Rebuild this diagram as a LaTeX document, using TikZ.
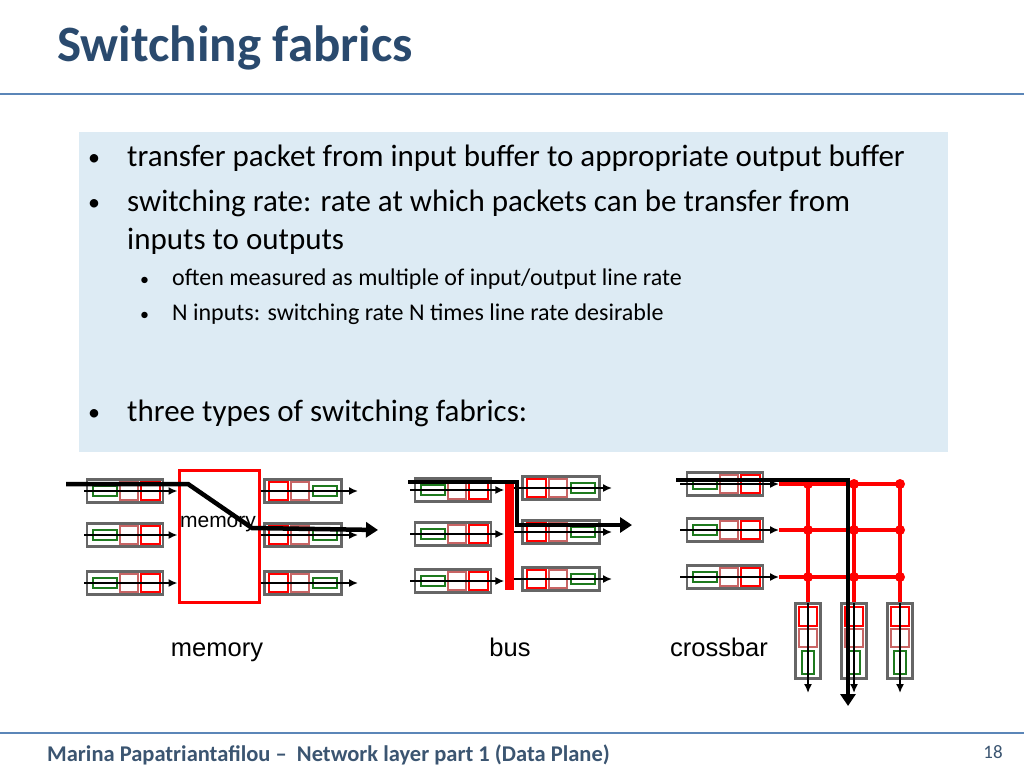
\documentclass[tikz,border=0pt]{standalone}
\usepackage{fontspec}
\setmainfont{Carlito}
\newfontfamily\arialfont{Liberation Sans}
\usetikzlibrary{arrows.meta}
\definecolor{titleblue}{HTML}{2A4A6E}
\definecolor{rulegrey}{HTML}{5B86B8}
\definecolor{panelblue}{HTML}{DDEBF4}
\definecolor{pinkred}{HTML}{C86464}
\definecolor{darkgreen}{HTML}{1E7A1E}
\tikzset{
  bufbox/.style={draw=gray!80!black,line width=2.2pt,fill=white},
  greenslot/.style={draw=darkgreen,line width=1.8pt},
  pinkslot/.style={draw=pinkred,line width=1.8pt},
  redslot/.style={draw=red,line width=1.8pt},
  thinarrow/.style={line width=1.6pt,-{Latex[length=9pt,width=8pt]}},
  bigarrow/.style={line width=4.5pt,-{Triangle[length=12pt,width=15pt]}},
  redwire/.style={draw=red,line width=3.5pt},
  junction/.style={circle,fill=red,inner sep=0pt,minimum size=10pt},
  fablabel/.style={font=\arialfont\fontsize{25.5}{28}\selectfont,anchor=base}
}
% input buffer: green first, then pink, then red
\newcommand{\inbuf}[3]{%
  \node[bufbox,minimum width=76pt,minimum height=23pt,inner sep=0pt] (#1) at (#2,#3) {};
  \draw[greenslot] (#2-32,#3-5) rectangle (#2-8,#3+5);
  \draw[pinkslot] (#2-5,#3-9) rectangle (#2+13,#3+9);
  \draw[redslot] (#2+16,#3-9) rectangle (#2+35,#3+9);
}
% output buffer: red, pink, then green
\newcommand{\outbuf}[3]{%
  \node[bufbox,minimum width=77pt,minimum height=23pt,inner sep=0pt] (#1) at (#2,#3) {};
  \draw[redslot] (#2-34,#3-9) rectangle (#2-15,#3+9);
  \draw[pinkslot] (#2-12,#3-9) rectangle (#2+6,#3+9);
  \draw[greenslot] (#2+10,#3-5) rectangle (#2+34,#3+5);
}
% vertical output buffer of the crossbar
\newcommand{\downbuf}[3]{%
  \node[bufbox,minimum width=25pt,minimum height=75pt,inner sep=0pt] (#1) at (#2,#3) {};
  \draw[redslot] (#2-9,#3-34) rectangle (#2+9,#3-15);
  \draw[pinkslot] (#2-9,#3-12) rectangle (#2+9,#3+6);
  \draw[greenslot] (#2-6,#3+10) rectangle (#2+6,#3+33);
}
\begin{document}
\begin{tikzpicture}[x=1pt,y=-1pt]
\useasboundingbox (0,0) rectangle (1024,768);

% title and rules
\node[anchor=base west,font=\bfseries\fontsize{51}{56}\selectfont,text=titleblue,inner sep=0pt] (title) at (57,61) {Switching fabrics};
\draw[rulegrey,line width=2.5pt] (0,94) -- (1024,94);
\draw[rulegrey,line width=2.5pt] (0,733) -- (1024,733);

% text panel
\fill[panelblue] (79,132) rectangle (948,452);
\begin{scope}[every node/.style={anchor=base west,inner sep=0pt,font=\fontsize{31}{34}\selectfont}]
\node (b1) at (88,166) {\raisebox{1pt}{\fontsize{24}{24}\selectfont\textbullet}};
\node (t1) at (127,166) {transfer packet from input buffer to appropriate output buffer};
\node (b2) at (88,211) {\raisebox{1pt}{\fontsize{24}{24}\selectfont\textbullet}};
\node (t2) at (127,211) {switching rate: rate at which packets can be transfer from};
\node (t2b) at (127,249) {inputs to outputs};
\node (b5) at (88,421) {\raisebox{1pt}{\fontsize{24}{24}\selectfont\textbullet}};
\node (t5) at (127,421) {three types of switching fabrics:};
\end{scope}
\begin{scope}[every node/.style={anchor=base west,inner sep=0pt,font=\fontsize{24}{27}\selectfont}]
\node (b3) at (140,285) {\fontsize{18}{18}\selectfont\textbullet};
\node (t3) at (172,285) {often measured as multiple of input/output line rate};
\node (b4) at (140,320) {\fontsize{18}{18}\selectfont\textbullet};
\node (t4) at (172,320) {N inputs: switching rate N times line rate desirable};
\end{scope}

% memory
\foreach \n/\y in {1/491,2/535,3/583}{
  \inbuf{mi\n}{125}{\y}
  \outbuf{mo\n}{303}{\y}
  \coordinate (mis\n) at (84,\y);
  \coordinate (moe\n) at (358,\y);
}
\node[draw=red,line width=3pt,minimum width=80pt,minimum height=132pt,inner sep=0pt] (mem) at (219,536) {};
\node[font=\arialfont\fontsize{21}{23}\selectfont,inner sep=0pt] (memtext) at (218,524) {memory};
\foreach \n in {1,2,3}{
  \draw[thinarrow] (mis\n) -- (mem.west |- mis\n);
  \draw[thinarrow] (mem.east |- moe\n) -- (moe\n);
}
\coordinate (mstart) at (66,484);
\coordinate (mend) at (378,530);
\draw[bigarrow] (mstart) -- (188,484) -- (252,528) -- (mend);
\node[fablabel] (memlabel) at (217,656) {memory};

% bus
\foreach \n/\y/\yo in {1/490/488,2/534/532,3/581/579}{
  \inbuf{bi\n}{453}{\y}
  \outbuf{bo\n}{561}{\yo}
  \coordinate (bis\n) at (410,\y);
  \coordinate (boe\n) at (612,\yo);
}
\node[fill=red,minimum width=9pt,minimum height=110pt,inner sep=0pt] (bus) at (509,535) {};
\foreach \n in {1,2,3}{
  \draw[thinarrow] (bis\n) -- (bus.west |- bis\n);
  \draw[thinarrow] (bus.east |- boe\n) -- (boe\n);
}
\coordinate (bstart) at (408,482);
\coordinate (bend) at (632,525);
\draw[bigarrow] (bstart) -- (517,482) -- (517,525) -- (bend);
\node[fablabel] (buslabel) at (510,656) {bus};

% crossbar
\foreach \n/\y in {1/484,2/530,3/577}{
  \inbuf{ci\n}{725}{\y}
  \coordinate (cis\n) at (680,\y);
  \coordinate (cie\n) at (779,\y);
  \coordinate (cre\n) at (900,\y);
  \draw[thinarrow] (cis\n) -- (cie\n);
  \draw[redwire] (cie\n) -- (cre\n);
}
\foreach \m/\x in {1/808,2/854,3/900}{
  \downbuf{co\m}{\x}{641}
  \draw[redwire] (\x,484) -- (co\m.north);
  \foreach \n in {1,2,3}{
    \node[junction] (j\m\n) at ({\x,0} |- cie\n) {};
  }
  \coordinate (cos\m) at (\x,603);
  \coordinate (coe\m) at (\x,693);
  \draw[thinarrow] (cos\m) -- (coe\m);
}
\coordinate (cstart) at (676,480);
\coordinate (cend) at (848,706);
\draw[bigarrow] (cstart) -- (848,480) -- (cend);
\node[fablabel] (xlabel) at (719,656) {crossbar};

% footer
\node[anchor=base west,inner sep=0pt,font=\bfseries\fontsize{22.5}{25}\selectfont,text=titleblue!80!gray] (foot) at (47,761) {Marina Papatriantafilou –\ \ Network layer part 1 (Data Plane)};
\node[anchor=base,inner sep=0pt,font=\fontsize{19}{20}\selectfont,text=titleblue!80!gray] (page) at (993,758) {18};
\end{tikzpicture}
\end{document}
